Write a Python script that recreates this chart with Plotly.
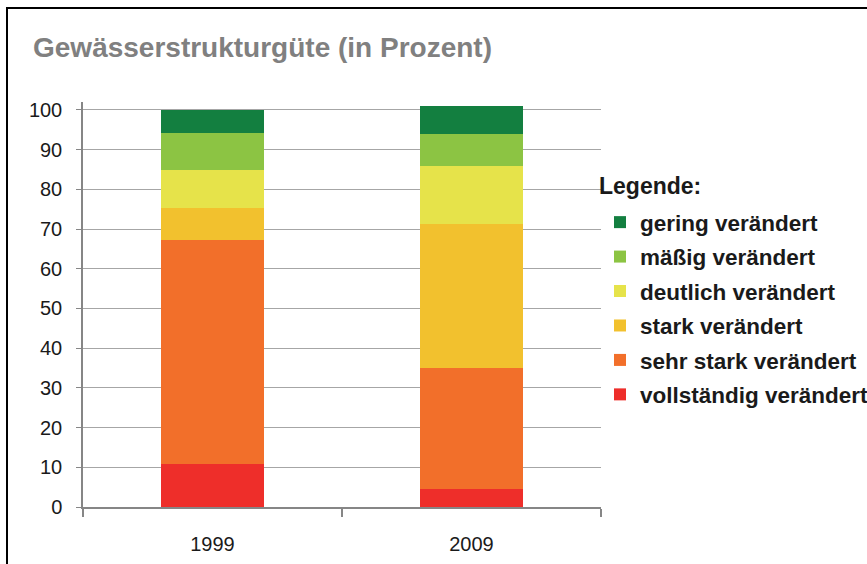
import plotly.graph_objects as go

years = ["1999", "2009"]
categories = ["vollständig verändert", "sehr stark verändert", "stark verändert",
              "deutlich verändert", "mäßig verändert", "gering verändert"]
colors = ["#ee2e2a", "#f26f2a", "#f2c12e", "#e6e34a", "#8cc443", "#137f40"]
values_1999 = [10.9, 56.3, 8.1, 9.5, 9.5, 5.7]
values_2009 = [4.5, 30.6, 36.2, 14.6, 8.0, 7.1]
y_ticks = [0, 10, 20, 30, 40, 50, 60, 70, 80, 90, 100]

W, H = 867, 564
L, R, T, B = 83, W - 601, 102, H - 507
pw, ph = W - L - R, H - T - B

def px_x(x):
    return (x - L) / pw

def px_y(y):
    return (H - B - y) / ph

fig = go.Figure()
n = len(categories)
for i, cat in enumerate(categories):
    fig.add_trace(go.Bar(
        x=years, y=[values_1999[i], values_2009[i]], name=cat,
        marker=dict(color=colors[i], line=dict(width=0)),
        legendgroup=cat, legendrank=n - i,
    ))

font_family = "Liberation Sans, Arial, sans-serif"
fig.update_layout(
    barmode="stack",
    bargap=0.6,
    width=W, height=H,
    margin=dict(l=L, r=R, t=T, b=B, pad=0, autoexpand=False),
    paper_bgcolor="white", plot_bgcolor="white",
    font=dict(family=font_family, size=20, color="#1a1a1a"),
    showlegend=True,
    legend=dict(
        x=px_x(600), y=px_y(201), xanchor="left", yanchor="top",
        xref="paper", yref="paper",
        traceorder="grouped", tracegroupgap=2.2,
        font=dict(family=font_family, size=22.5, color="#1a1a1a", weight="bold"),
        itemwidth=30, bgcolor="rgba(0,0,0,0)",
    ),
    xaxis=dict(
        showline=True, linecolor="#868686", linewidth=1.5,
        ticks="outside", ticklen=8, tickcolor="#868686", tickwidth=1.5,
        tickson="boundaries", showgrid=False, ticklabelstandoff=18,
        tickfont=dict(size=20, color="#1a1a1a"),
    ),
    yaxis=dict(
        range=[0, 102], tickvals=y_ticks,
        showline=True, linecolor="#868686", linewidth=1.5,
        ticks="outside", ticklen=5, tickcolor="#868686",
        showgrid=True, gridcolor="#a6a6a6", gridwidth=1,
        zeroline=False, ticklabelstandoff=10,
        tickfont=dict(size=20, color="#1a1a1a"),
    ),
    shapes=[dict(
        type="rect", xref="paper", yref="paper",
        x0=px_x(7), x1=px_x(900), y0=px_y(600), y1=px_y(8),
        line=dict(color="black", width=2), fillcolor="rgba(0,0,0,0)",
        layer="above",
    )],
    annotations=[
        dict(text="<b>Gewässerstrukturgüte (in Prozent)</b>", xref="paper", yref="paper",
             x=px_x(31), y=px_y(47), xanchor="left", yanchor="middle", showarrow=False,
             font=dict(family=font_family, size=28, color="#808080")),
        dict(text="<b>Legende:</b>", xref="paper", yref="paper",
             x=px_x(597), y=px_y(186), xanchor="left", yanchor="middle", showarrow=False,
             font=dict(family=font_family, size=23, color="#1a1a1a")),
    ],
)

fig.write_html("out.html", post_script="document.body.style.margin='0';",
               config={"displayModeBar": False})
